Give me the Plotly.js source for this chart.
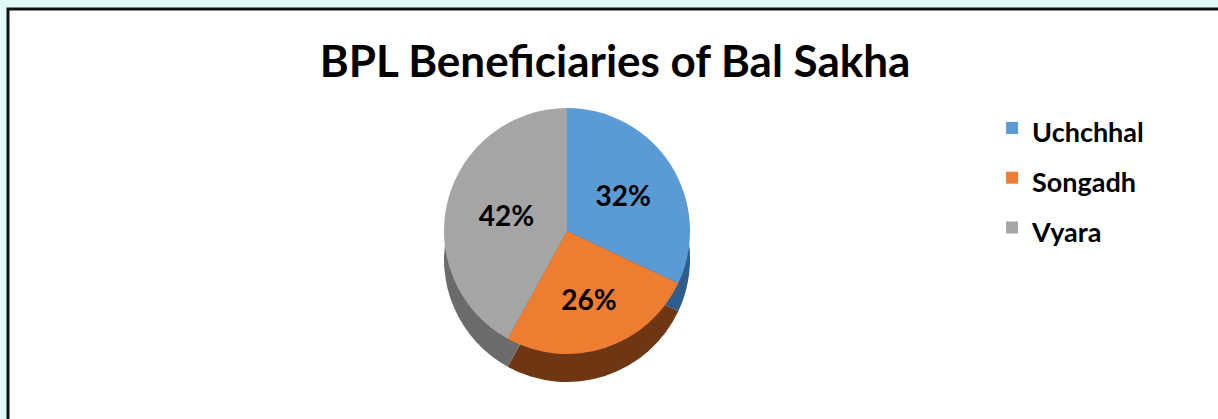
<!DOCTYPE html>
<html>
<head>
<meta charset="utf-8">
<script src="https://cdn.plot.ly/plotly-3.0.1.min.js"></script>
<style>
html,body{margin:0;padding:0;background:#e0fafc;}
#chart{width:1218px;height:419px;}
</style>
</head>
<body>
<div id="chart"></div>
<script>
const categories = ["Uchchhal", "Songadh", "Vyara"];
const shares = [32, 26, 42];
const topColors = ["#5b9bd5", "#ed7d31", "#a5a5a5"];
const sideColors = ["#2f5d8c", "#6e3612", "#6b6b6b"];

const W = 1218, H = 419;
function px2dom(x0, x1, y0, y1) {
  return {x: [x0 / W, x1 / W], y: [(H - y1) / H, (H - y0) / H]};
}
const legendLabels = categories.map(c => '<span style="font-size:27px">' + c + '</span>');

const depthPie = {
  type: "pie",
  labels: legendLabels,
  values: shares,
  sort: false,
  direction: "clockwise",
  rotation: 0,
  marker: {colors: sideColors, line: {width: 0}},
  textinfo: "none",
  hoverinfo: "skip",
  showlegend: false,
  domain: px2dom(430, 704, 136, 382)
};

const topPie = {
  type: "pie",
  labels: legendLabels,
  values: shares,
  sort: false,
  direction: "clockwise",
  rotation: 0,
  marker: {colors: topColors, line: {width: 0}},
  textinfo: "percent",
  textposition: "inside",
  insidetextorientation: "horizontal",
  insidetextfont: {family: "Lato, 'Open Sans', sans-serif", size: 28, color: "#000000", weight: 700},
  domain: px2dom(430, 704, 108, 354)
};

const layout = {
  width: W,
  height: H,
  margin: {l: 0, r: 0, t: 0, b: 0},
  paper_bgcolor: "#e0fafc",
  plot_bgcolor: "#ffffff",
  title: {
    text: "<b>BPL Beneficiaries of Bal Sakha</b>",
    font: {family: "Lato, 'Open Sans', sans-serif", size: 44, color: "#000000"},
    x: 0.505, xanchor: "center",
    y: 0.853, yanchor: "middle"
  },
  shapes: [{
    type: "rect", xref: "paper", yref: "paper",
    x0: 8 / W, x1: 1.05, y0: -0.05, y1: (H - 9) / H,
    fillcolor: "#ffffff",
    line: {color: "#111111", width: 3},
    layer: "below"
  }],
  legend: {
    x: 0.8145, xanchor: "left",
    y: (H - 98) / H, yanchor: "top",
    font: {family: "Lato, 'Open Sans', sans-serif", size: 36, color: "#000000", weight: 700},
    bgcolor: "rgba(0,0,0,0)",
    itemwidth: 30,
    tracegroupgap: 0
  },
  showlegend: true
};

Plotly.newPlot("chart", [depthPie, topPie], layout, {displayModeBar: false, staticPlot: true});
</script>
</body>
</html>
